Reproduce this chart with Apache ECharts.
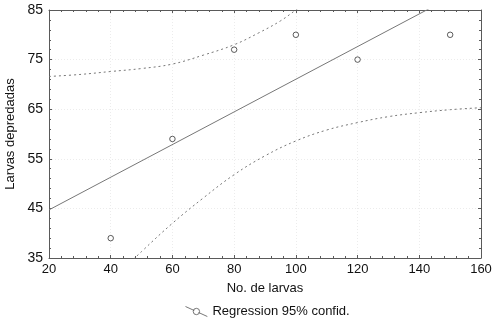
<!DOCTYPE html>
<html><head><meta charset="utf-8">
<script src="https://cdn.jsdelivr.net/npm/echarts@6/dist/echarts.min.js"></script>
<style>html,body{margin:0;padding:0;background:#fff}#c{width:503px;height:331px}</style>
</head><body><div id="c"></div>
<script>
// Observed points
const larvaeX = [40, 60, 80, 100, 120, 150];
const predatedY = [39, 59, 77, 80, 75, 80];
// Regression line
const regX = [20, 160];
const regY = [44.7, 90.8];
// Upper 95% confidence curve
const upperX = [20, 30, 40, 50, 60, 70, 80, 88, 95, 100, 103];
const upperY = [71.6, 72.0, 72.6, 73.2, 74.1, 75.9, 78.0, 80.4, 82.8, 85.0, 86.3];
// Lower 95% confidence curve
const lowerX = [45, 50, 60, 70, 80, 90, 100, 110, 120, 130, 140, 150, 160];
const lowerY = [33.3, 36.3, 42.0, 47.1, 51.8, 55.6, 58.6, 60.8, 62.3, 63.5, 64.3, 64.9, 65.3];
const xTicks = [20, 160, 20];
const yTicks = [35, 85, 10];

const pairs = (xs, ys) => xs.map((x, i) => [x, ys[i]]);
const FONT = 'Liberation Sans';
const AX = '#5a5a5a';
const axisCommon = {
  axisLine: { show: true, onZero: false, lineStyle: { color: AX, width: 1 } },
  axisTick: { show: true, inside: true, length: 3, lineStyle: { color: AX } },
  minorTick: { show: true, splitNumber: 5, length: 2, lineStyle: { color: AX } }
};
const chart = echarts.init(document.getElementById('c'), null, { renderer: 'canvas' });
chart.setOption({
  animation: false,
  backgroundColor: '#fff',
  textStyle: { fontFamily: FONT },
  grid: { left: 49, right: 22, top: 10, bottom: 73, containLabel: false, outerBoundsMode: 'none' },
  xAxis: [
    Object.assign({
      type: 'value', min: xTicks[0], max: xTicks[1], interval: xTicks[2], position: 'bottom',
      name: 'No. de larvas', nameLocation: 'middle', nameGap: 24,
      nameTextStyle: { fontFamily: FONT, fontSize: 13, color: '#111' },
      axisLabel: { fontFamily: FONT, fontSize: 13, color: '#111', margin: 5 },
      splitLine: { show: true, lineStyle: { color: '#ececec', type: [1, 2] } }
    }, axisCommon),
    Object.assign({
      type: 'value', min: xTicks[0], max: xTicks[1], interval: xTicks[2], position: 'top',
      axisLabel: { show: false }, splitLine: { show: false }
    }, axisCommon)
  ],
  yAxis: [
    Object.assign({
      type: 'value', min: yTicks[0], max: yTicks[1], interval: yTicks[2], position: 'left',
      name: 'Larvas depredadas', nameLocation: 'middle', nameGap: 26, nameRotate: 90,
      nameTextStyle: { fontFamily: FONT, fontSize: 13, color: '#111' },
      axisLabel: { fontFamily: FONT, fontSize: 14, color: '#111', margin: 6 },
      splitLine: { show: true, lineStyle: { color: '#ececec', type: [1, 2] } }
    }, axisCommon),
    Object.assign({
      type: 'value', min: yTicks[0], max: yTicks[1], interval: yTicks[2], position: 'right',
      axisLabel: { show: false }, splitLine: { show: false }
    }, axisCommon)
  ],
  legend: {
    left: 180, top: 300, itemWidth: 22, itemHeight: 10, itemGap: 6,
    textStyle: { fontFamily: FONT, fontSize: 13, color: '#111' },
    data: [{
      name: 'Regression 95% confid.',
      icon: 'path://M0,0 L9.6,4.4 M14.4,6.6 L24,11 M15.5,5.5 A3.5,3.5 0 1 1 8.5,5.5 A3.5,3.5 0 1 1 15.5,5.5 Z',
      itemStyle: { color: '#fff', borderColor: '#555', borderWidth: 1 }
    }]
  },
  series: [
    {
      name: 'regline', type: 'line', data: pairs(regX, regY), showSymbol: false, clip: true,
      lineStyle: { color: '#777', width: 1 }, silent: true
    },
    {
      name: 'upper', type: 'line', data: pairs(upperX, upperY), smooth: 0.4, showSymbol: false, clip: true,
      lineStyle: { color: '#777', width: 1, type: [2, 3] }, silent: true
    },
    {
      name: 'lower', type: 'line', data: pairs(lowerX, lowerY), smooth: 0.4, showSymbol: false, clip: true,
      lineStyle: { color: '#777', width: 1, type: [2, 3] }, silent: true
    },
    {
      name: 'Regression 95% confid.', type: 'scatter', data: pairs(larvaeX, predatedY),
      symbol: 'circle', symbolSize: 5.5,
      itemStyle: { color: '#fff', borderColor: '#333', borderWidth: 1 }
    }
  ]
});
</script></body></html>
